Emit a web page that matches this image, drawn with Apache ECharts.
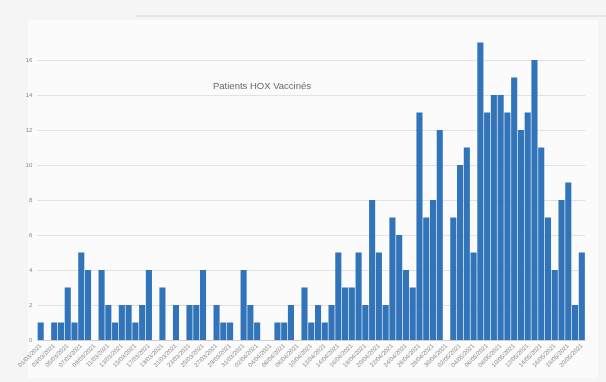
<!DOCTYPE html>
<html>
<head>
<meta charset="utf-8">
<script src="https://cdn.jsdelivr.net/npm/echarts@6/dist/echarts.min.js"></script>
<style>html,body{margin:0;padding:0;background:#f5f5f5;}#c{width:606px;height:382px;}</style>
</head>
<body>
<div id="c"></div>
<script>
var categories = [
"01/03/2021","02/03/2021","03/03/2021","04/03/2021","05/03/2021","06/03/2021","07/03/2021","08/03/2021","09/03/2021","10/03/2021",
"11/03/2021","12/03/2021","13/03/2021","14/03/2021","15/03/2021","16/03/2021","17/03/2021","18/03/2021","19/03/2021","20/03/2021",
"21/03/2021","22/03/2021","23/03/2021","24/03/2021","25/03/2021","26/03/2021","27/03/2021","28/03/2021","29/03/2021","30/03/2021",
"31/03/2021","01/04/2021","02/04/2021","03/04/2021","04/04/2021","05/04/2021","06/04/2021","07/04/2021","08/04/2021","09/04/2021",
"10/04/2021","11/04/2021","12/04/2021","13/04/2021","14/04/2021","15/04/2021","16/04/2021","17/04/2021","18/04/2021","19/04/2021",
"20/04/2021","21/04/2021","22/04/2021","23/04/2021","24/04/2021","25/04/2021","26/04/2021","27/04/2021","28/04/2021","29/04/2021",
"30/04/2021","01/05/2021","02/05/2021","03/05/2021","04/05/2021","05/05/2021","06/05/2021","07/05/2021","08/05/2021","09/05/2021",
"10/05/2021","11/05/2021","12/05/2021","13/05/2021","14/05/2021","15/05/2021","16/05/2021","17/05/2021","18/05/2021","19/05/2021",
"20/05/2021"
];
var patients = [
1,0,1,1,3,1,5,4,0,4,
2,1,2,2,1,2,4,0,3,0,
2,0,2,2,4,
0,2,1,1,0,4,2,1,0,0,1,1,2,0,3,1,2,1,2,
5,3,3,5,2,8,5,2,7,6,4,3,13,7,8,12,0,7,10,11,
5,17,13,14,14,13,15,12,13,16,11,7,4,8,9,2,5
];
var title = "Patients HOX Vaccinés";
var yTicks = [0,2,4,6,8,10,12,14,16];

var chart = echarts.init(document.getElementById('c'), null, {renderer:'canvas'});
chart.setOption({
  backgroundColor: '#f5f5f5',
  animation: false,
  title: {
    text: title,
    left: 257, top: 76, textAlign: 'center',
    textStyle: {fontFamily: 'Liberation Sans', fontSize: 9.5, fontWeight: 'normal', color: '#666'}
  },
  graphic: [
    {type: 'rect', shape: {x: 28, y: 20, width: 570, height: 358}, style: {fill: '#fbfbfb'}, z: -10, silent: true},
    {type: 'line', shape: {x1: 135, y1: 16, x2: 606, y2: 16}, style: {stroke: '#d6d6d6', lineWidth: 1}, silent: true}
  ],
  grid: {left: 37.3, right: 20.8, top: 25, bottom: 42, containLabel: false},
  xAxis: {
    type: 'category',
    data: categories,
    boundaryGap: true,
    axisLine: {show: true, lineStyle: {color: '#d0d0d0'}},
    axisTick: {show: false},
    axisLabel: {
      interval: 1, rotate: 45, fontSize: 6, color: '#888',
      fontFamily: 'Liberation Sans', margin: 5
    }
  },
  yAxis: {
    type: 'value',
    min: 0, max: 18, interval: 2,
    axisLine: {show: false},
    axisTick: {show: false},
    axisLabel: {
      fontSize: 6, color: '#888', fontFamily: 'Liberation Sans', margin: 5,
      showMaxLabel: false,
      formatter: function (v) { return yTicks.indexOf(v) >= 0 ? String(v) : ''; }
    },
    splitLine: {show: true, lineStyle: {color: ['#e2e2e2','#e2e2e2','#e2e2e2','#e2e2e2','#e2e2e2','#e2e2e2','#e2e2e2','#e2e2e2','#e2e2e2','rgba(0,0,0,0)'], width: 1}}
  },
  series: [{
    type: 'bar',
    data: patients,
    barCategoryGap: '10%',
    itemStyle: {color: '#3174b9'}
  }]
});
</script>
</body>
</html>
